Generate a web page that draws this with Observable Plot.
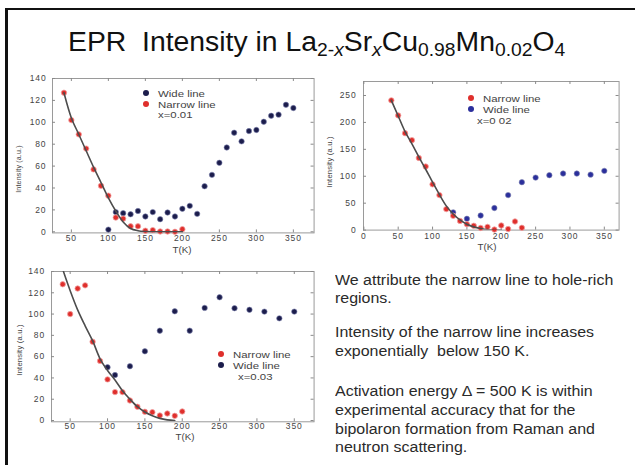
<!DOCTYPE html>
<html><head><meta charset="utf-8">
<script src="https://cdn.jsdelivr.net/npm/d3@7"></script>
<script src="https://cdn.jsdelivr.net/npm/@observablehq/plot@0.6"></script>
<style>
body{margin:0;background:#fff;}
#slide{position:relative;width:635px;height:465px;overflow:hidden;background:#fff;font-family:Arial,"Liberation Sans",sans-serif;}
.abs{position:absolute;white-space:nowrap;}
.ylab{transform:translate(-50%,-50%) rotate(-90deg);font-size:7px;color:#444;letter-spacing:0.2px;}
.xlab{transform:translate(-50%,-50%) scaleX(1.15);font-size:8.5px;color:#444;}
.leg{font-size:9.5px;color:#444;transform:translateY(-50%) scaleX(1.2);transform-origin:left center;}
.dotk{width:6px;height:6px;border-radius:50%;transform:translate(-50%,-50%);}
#title{font-size:27px;color:#111;transform:scaleX(1.05);transform-origin:left top;}
#title sub{font-size:0.68em;vertical-align:-0.28em;line-height:0;}
.para{font-size:14px;line-height:18.7px;color:#2a2a2a;transform:scaleX(1.14);transform-origin:left top;}
</style></head><body><div id="slide"></div><script>
// ---- data: x = 0.01 ----
const p1NarrowT = [40,50,60,70,80,90,100,110,120,130,140,150,160,170,180,190,200];
const p1NarrowI = [127,102,89,76,57,42,33,13,12,5,5,1,1.5,0.3,0.3,0,2.4];
const p1WideT = [100,110,120,130,140,150,160,170,180,190,200,210,220,230,240,250,260,270,280,290,300,310,320,330,340,350];
const p1WideI = [2,18,17,16,19,14,18,11.5,17.6,14,21,23.7,16.4,41.6,52,63,77,90.5,82.6,92,93,100.5,106,107,116,113];
const p1FitT = [40,50,60,70,80,90,100,110,120,130,140,150,170,200];
const p1FitI = [127,104,89,74,59,45,31,19,9,3,1,0.3,0,0];
// ---- data: x = 0.02 ----
const p2NarrowT = [40,50,60,70,80,90,100,110,120,130,140,150,160,170,180,190,200,210,220,230];
const p2NarrowI = [241,213,180,167,134,118,85,65,39,26.5,17,11,8,4,6,1,8.6,2,16,4.3];
const p2WideT = [130,150,170,190,210,230,250,270,290,310,330,350];
const p2WideI = [33,21,27,41,65,89,97.5,102,105,105,103,110];
const p2FitT = [40,50,60,70,80,90,100,110,120,130,140,150,160,170,180,190,200];
const p2FitI = [241,212,183,160,136,113,89,66,45,30,19,11,6,3,1,0.3,0];
// ---- data: x = 0.03 ----
const p3NarrowT = [40,50,60,70,80,90,100,110,120,130,140,150,160,170,180,190,200];
const p3NarrowI = [128,100,124,127,74,56,38.6,26.7,26.7,18.8,12.9,8.2,7.8,4.7,6.6,4.4,8.5];
const p3WideT = [100,110,130,150,170,190,210,230,250,270,290,310,330,350];
const p3WideI = [50,42.7,51,65,84.4,102.6,84.4,105.8,115.8,105.5,104,102.3,96,102.3];
const p3FitT = [41,50,60,70,80,90,100,110,120,130,140,150,160,170,180,190];
const p3FitI = [140,122,104,89,75,58,47,38,28,20,13,8,4.5,2,0.6,0];
// ---- ticks ----
const ticksX1 = [50,100,150,200,250,300,350];
const ticksY1 = [0,20,40,60,80,100,120,140];
const ticksX2 = [0,50,100,150,200,250,300,350];
const ticksY2 = [0,50,100,150,200,250];

const RED = "#df2f2c", NAVY = "#1c1d4c", BLUE = "#2b2f9c";
const slide = document.getElementById("slide");
const zip = (t, v) => t.map((d, i) => ({T: d, I: v[i]}));

function chart(c) {
  const mL = 40, mR = 6, mT = 6, mB = 16;
  const fw = c.fw, fh = c.fh;
  const svg = Plot.plot({
    width: fw + mL + mR, height: fh + mT + mB,
    marginLeft: mL, marginRight: mR, marginTop: mT, marginBottom: mB,
    x: {domain: c.xDomain}, y: {domain: c.yDomain},
    style: {background: "transparent", fontFamily: "Arial, 'Liberation Sans', sans-serif", fontSize: "8.5px", color: "#444", letterSpacing: "0.9px", overflow: "visible"},
    marks: [
      Plot.frame({stroke: "#9a9a9a"}),
      Plot.tickX(c.xTicks, {x: d => d, insetTop: fh - 3, stroke: "#8a8a8a"}),
      Plot.tickX(c.xTicks, {x: d => d, insetBottom: fh - 3, stroke: "#8a8a8a"}),
      Plot.tickY(c.yTicks, {y: d => d, insetRight: fw - 3, stroke: "#8a8a8a"}),
      Plot.tickY(c.yTicks, {y: d => d, insetLeft: fw - 3, stroke: "#8a8a8a"}),
      Plot.axisX({ticks: c.xTicks, tickSize: 0, tickPadding: c.xPad, label: null, tickFormat: d => d}),
      Plot.axisY({ticks: c.yTicks, tickSize: 0, tickPadding: c.yPad, label: null, tickFormat: d => d}),
      Plot.dot(c.wide, {x: "T", y: "I", r: 2.7, fill: c.wideColor, stroke: "#7f84b0", strokeWidth: 0.6}),
      Plot.dot(c.narrow, {x: "T", y: "I", r: 2.7, fill: RED, stroke: "#f1a3a3", strokeWidth: 0.8}),
      Plot.line(c.fit, {x: "T", y: "I", stroke: "#4d4d4d", strokeWidth: 1.6, curve: "catmull-rom", clip: true})
    ]
  });
  svg.style.position = "absolute";
  svg.style.left = (c.fx - mL) + "px";
  svg.style.top = (c.fy - mT) + "px";
  slide.appendChild(svg);
}

function addHTML(html) { slide.insertAdjacentHTML("beforeend", html); }
function legend(items, x, y0, step, note, noteX) {
  items.forEach((it, i) => {
    const y = y0 + i * step;
    addHTML(`<div class="abs dotk" style="left:${x}px;top:${y}px;background:${it.color}"></div>`);
    addHTML(`<div class="abs leg" style="left:${x + 12.5}px;top:${y}px">${it.label}</div>`);
  });
  addHTML(`<div class="abs leg" style="left:${noteX}px;top:${y0 + items.length * step}px">${note}</div>`);
}

// border of the slide
addHTML(`<div class="abs" style="left:5px;top:7.5px;width:2.6px;height:460px;background:#111"></div>`);
addHTML(`<div class="abs" style="left:5px;top:7.5px;width:630px;height:2.6px;background:#111"></div>`);

// title
addHTML(`<div id="title" class="abs" style="left:68px;top:27px">EPR&nbsp; Intensity in La<sub>2-<i>x</i></sub>Sr<sub><i>x</i></sub>Cu<sub>0.98</sub>Mn<sub>0.02</sub>O<sub>4</sub></div>`);

chart({fx: 51.7, fy: 78.3, fw: 261.6, fh: 154.4, xDomain: [24.5, 378], yDomain: [-1, 140],
  xTicks: ticksX1, yTicks: ticksY1, xPad: 2, yPad: 6,
  narrow: zip(p1NarrowT, p1NarrowI), wide: zip(p1WideT, p1WideI), fit: zip(p1FitT, p1FitI), wideColor: NAVY});
chart({fx: 362.7, fy: 80.7, fw: 255.6, fh: 148.6, xDomain: [-0.5, 371.5], yDomain: [0, 276],
  xTicks: ticksX2, yTicks: ticksY2, xPad: 3, yPad: 7,
  narrow: zip(p2NarrowT, p2NarrowI), wide: zip(p2WideT, p2WideI), fit: zip(p2FitT, p2FitI), wideColor: BLUE});
chart({fx: 50.7, fy: 270.7, fw: 262.6, fh: 150.3, xDomain: [25, 376.5], yDomain: [-1.2, 140],
  xTicks: ticksX1, yTicks: ticksY1, xPad: 1.5, yPad: 6.4,
  narrow: zip(p3NarrowT, p3NarrowI), wide: zip(p3WideT, p3WideI), fit: zip(p3FitT, p3FitI), wideColor: NAVY});

// axis titles
addHTML(`<div class="abs ylab" style="left:18px;top:168.7px">Intensity (a.u.)</div>`);
addHTML(`<div class="abs ylab" style="left:329px;top:162.3px;font-size:7.6px">Intensity (a.u.)</div>`);
addHTML(`<div class="abs ylab" style="left:19px;top:350px;font-size:7.6px">Intensity (a.u.)</div>`);
addHTML(`<div class="abs xlab" style="left:181.7px;top:250px">T(K)</div>`);
addHTML(`<div class="abs xlab" style="left:486.7px;top:246.5px">T(K)</div>`);
addHTML(`<div class="abs xlab" style="left:185px;top:437px">T(K)</div>`);

// legends
legend([{label: "Wide line", color: NAVY}, {label: "Narrow line", color: RED}], 145.7, 93.3, 10.4, "x=0.01", 158);
legend([{label: "Narrow line", color: RED}, {label: "Wide line", color: BLUE}], 470.7, 98.3, 10.6, "x=0 02", 476.7);
legend([{label: "Narrow line", color: RED}, {label: "Wide line", color: NAVY}], 220.7, 354.3, 10.7, "x=0.03", 238);

// text block
addHTML(`<div class="abs para" style="left:335px;top:270.7px">We attribute the narrow line to hole-rich<br>regions.</div>`);
addHTML(`<div class="abs para" style="left:335px;top:323px">Intensity of the narrow line increases<br>exponentially&nbsp; below 150 K.</div>`);
addHTML(`<div class="abs para" style="left:335px;top:382.3px">Activation energy &Delta; = 500 K is within<br>experimental accuracy that for the<br>bipolaron formation from Raman and<br>neutron scattering.</div>`);
</script></body></html>
